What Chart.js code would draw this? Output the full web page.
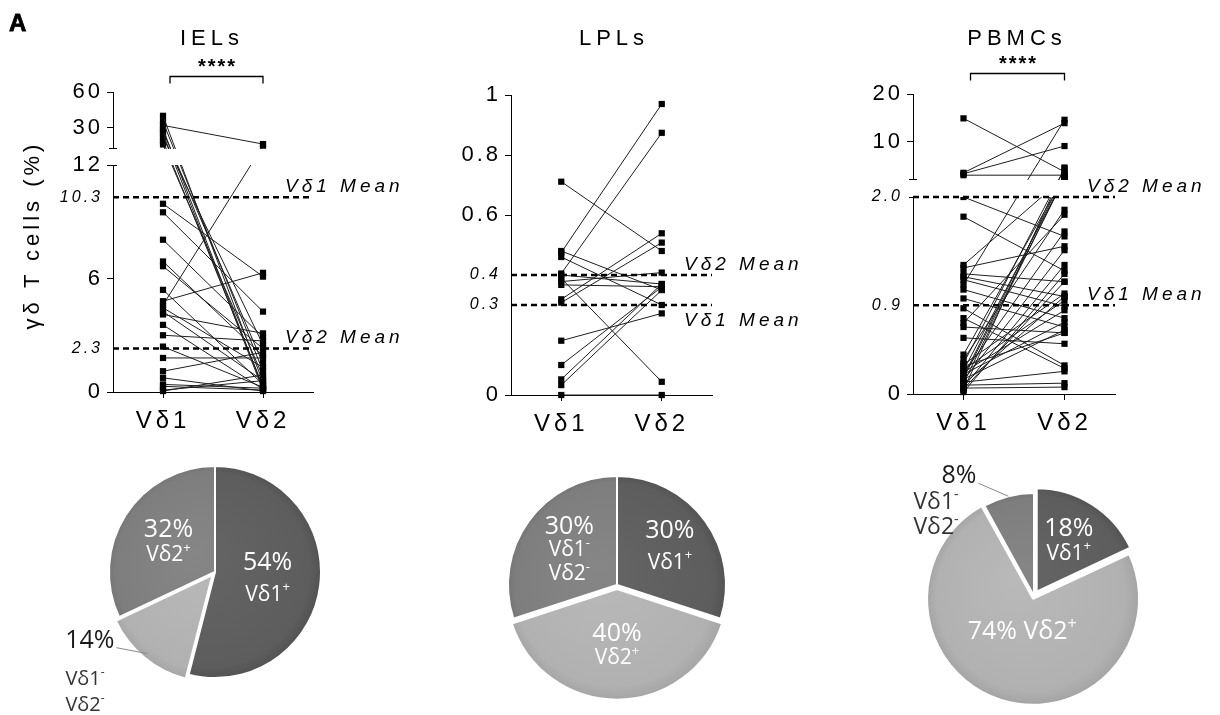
<!DOCTYPE html>
<html>
<head>
<meta charset="utf-8">
<script src="https://cdn.jsdelivr.net/npm/chart.js@4.4.1/dist/chart.umd.min.js"></script>
<style>
  body { margin: 0; background: #fff; width: 1220px; height: 715px; position: relative; overflow: hidden;
         font-family: "Liberation Sans", Arial, sans-serif; color: #000; }
  canvas, .txt { position: absolute; }
  .txt { z-index: 2; }
  .title { font-size: 22px; letter-spacing: 5px; line-height: 22px; width: 200px; text-align: center; top: 27px; }
</style>
</head>
<body>
<canvas id="ielPairs" width="420" height="450" style="left:0; top:0;"></canvas>
<canvas id="lplPairs" width="400" height="450" style="left:420px; top:0;"></canvas>
<canvas id="pbmcPairs" width="390" height="450" style="left:830px; top:0;"></canvas>
<canvas id="ielPie" width="430" height="265" style="left:0; top:450px;"></canvas>
<canvas id="lplPie" width="400" height="265" style="left:420px; top:450px;"></canvas>
<canvas id="pbmcPie" width="390" height="265" style="left:830px; top:450px;"></canvas>

<div class="txt" style="left:9px; top:9px; font-size:24px; font-weight:bold; line-height:28px; -webkit-text-stroke:0.8px #000;">A</div>
<div class="txt title" style="left:112px;">IELs</div>
<div class="txt title" style="left:514px;">LPLs</div>
<div class="txt title" style="left:917px;">PBMCs</div>
<div class="txt" style="left:-118px; top:222px; width:300px; text-align:center; font-size:22px; letter-spacing:4px; line-height:26px; transform:rotate(-90deg);">γδ T cells (%)</div>

<script>
const categories = ['Vδ1', 'Vδ2'];

// IELs, % of gamma-delta T cells, one entry per donor (Vδ1 and Vδ2 paired)
const ielVd1 = [40, 35, 32, 29, 27, 25, 22, 19, 16, 9.95, 9.5, 8.05, 6.9, 6.65, 5.4, 4.8, 4.6, 4.45, 4.25, 4.1,
                3.55, 3.0, 2.4, 1.8, 1.1, 0.75, 0.4, 0.3, 0.1, 0.05];
const ielVd2 = [0.5, 1.1, 16.3, 0.2, 1.5, 0.1, 2.5, 0.3, 0.8, 6.1, 4.25, 2.9, 1.9, 2.3, 0.4, 6.3, 15, 1.3, 0.6, 3.1,
                0.15, 2.7, 0.25, 1.8, 2.1, 0.05, 0.2, 0.1, 0.6, 0.9];
const ielMeans = [10.3, 2.3];
const ielTicks = [0, 2.3, 6, 10.3, 12, 30, 60];
const ielTickLabels = ['0', '2.3', '6', '10.3', '12', '30', '60'];

// LPLs
const lplVd1 = [0.711, 0.475, 0.48, 0.46, 0.405, 0.40, 0.389, 0.378, 0.367, 0.319, 0.308, 0.181, 0.1, 0.052, 0.033, 0];
const lplVd2 = [0.48, 0.97, 0.35, 0.30, 0.874, 0.37, 0.044, 0.408, 0.361, 0.539, 0.508, 0.272, 0.36, 0.37, 0.35, 0];
const lplMeans = [0.3, 0.4];
const lplTicks = [0, 0.3, 0.4, 0.6, 0.8, 1];
const lplTickLabels = ['0', '0.3', '0.4', '0.6', '0.8', '1'];

// PBMCs
const pbmcVd1 = [14.9, 3.5, 3.3, 3.0, 2.0, 1.8, 1.31, 1.28, 1.22, 1.19, 1.16, 1.11, 1.06, 0.97, 0.87, 0.77, 0.72, 0.68,
                 0.57, 0.40, 0.35, 0.31, 0.24, 0.21, 0.18, 0.14, 0.11, 0.07, 0.04, 0.02, 0.30, 0.25, 0.20, 0.15, 0.12,
                 0.09, 0.06, 0.16, 0.28, 0.10, 0.05, 0.22];
const pbmcVd2 = [3.7, 13.9, 9.1, 3.0, 1.6, 1.25, 2.6, 1.5, 1.14, 0.99, 0.89, 14.6, 0.77, 0.68, 0.29, 0.26, 1.82, 0.62,
                 0.51, 2.8, 1.87, 4.4, 2.4, 1.65, 3.2, 1.46, 2.6, 1.31, 4.6, 1.22, 1.02, 0.95, 0.73, 0.65, 0.23,
                 0.11, 0.07, 2.3, 0.62, 0.99, 1.14, 0.85];
const pbmcMeans = [0.9, 2.0];
const pbmcTicks = [0, 0.9, 2.0, 10, 20];
const pbmcTickLabels = ['0', '0.9', '2.0', '10', '20'];

const significance = '****';

// pie charts: subset shares in %
const ielPieLabels = ['Vδ1⁺', 'Vδ1⁻ Vδ2⁻', 'Vδ2⁺'];
const ielPieValues = [54, 14, 32];
const lplPieLabels = ['Vδ1⁺', 'Vδ2⁺', 'Vδ1⁻ Vδ2⁻'];
const lplPieValues = [30, 40, 30];
const pbmcPieLabels = ['Vδ1⁺', 'Vδ2⁺', 'Vδ1⁻ Vδ2⁻'];
const pbmcPieValues = [18, 74, 8];

const AXIS_FONT = '"Liberation Sans", Arial, sans-serif';
const PIE_FONT = '"Open Sans", "Noto Sans", sans-serif';
const DARK = '#5d5d5d', MID = '#7e7e7e', LIGHT = '#b1b1b1';

// segmented (broken) y axes: value ranges and the share of the axis height they get
const axisBreaks = {
  iel:  [{ from: 0, to: 12, start: 0, end: 227 / 300 }, { from: 13, to: 60, start: 244 / 300, end: 1 }],
  pbmc: [{ from: 0, to: 2, start: 0, end: 197 / 300 }, { from: 2.2, to: 20, start: 215 / 300, end: 1 }]
};

class BrokenScale extends Chart.LinearScale {
  static id = 'broken';
  getPixelForValue(value) {
    const segs = axisBreaks[this.options.breaks];
    if (!segs || value === null || value === undefined) return super.getPixelForValue(value);
    let dec = 0;
    for (let i = 0; i < segs.length; i++) {
      const s = segs[i];
      if (value <= s.to || i === segs.length - 1) {
        if (value >= s.from || i === 0) {
          dec = s.start + (value - s.from) / (s.to - s.from) * (s.end - s.start);
        } else {
          const p = segs[i - 1];
          dec = p.end + (value - p.to) / (s.from - p.to) * (s.start - p.end);
        }
        break;
      }
    }
    return this.getPixelForDecimal(dec);
  }
  drawLabels(area) {
    this.ctx.save();
    this.ctx.letterSpacing = '3px';
    super.drawLabels(area);
    this.ctx.restore();
  }
}

class SpacedCategory extends Chart.CategoryScale {
  static id = 'spacedCategory';
  drawLabels(area) {
    this.ctx.save();
    this.ctx.letterSpacing = '4px';
    super.drawLabels(area);
    this.ctx.restore();
  }
}
Chart.register(BrokenScale, SpacedCategory);

function decor(cfg) {
  return {
    id: 'decor',
    afterDatasetsDraw(chart) {
      const { ctx, chartArea: a, scales: { x, y } } = chart;
      ctx.save();
      const segs = axisBreaks[cfg.breaks];
      if (segs) {
        for (let i = 1; i < segs.length; i++) {
          const yLow = Math.round(y.getPixelForValue(segs[i - 1].to));
          const yHigh = Math.round(y.getPixelForValue(segs[i].from));
          ctx.fillStyle = '#fff';
          ctx.fillRect(a.left - 3, yHigh + 1, a.right - a.left + 12, yLow - yHigh - 1);
          ctx.strokeStyle = '#000';
          ctx.lineWidth = 1;
          ctx.beginPath();
          ctx.moveTo(a.left - 4, yHigh + 0.5); ctx.lineTo(a.left + 4, yHigh + 0.5);
          ctx.moveTo(a.left - 4, yLow + 0.5); ctx.lineTo(a.left + 4, yLow + 0.5);
          ctx.stroke();
        }
      }
      // mean lines
      ctx.strokeStyle = '#000';
      ctx.lineWidth = 2.5;
      ctx.setLineDash([6, 4]);
      cfg.means.forEach(m => {
        const py = y.getPixelForValue(m);
        ctx.beginPath(); ctx.moveTo(a.left, py); ctx.lineTo(a.right, py); ctx.stroke();
      });
      ctx.setLineDash([]);
      ctx.fillStyle = '#000';
      ctx.font = 'italic 19px ' + AXIS_FONT;
      ctx.letterSpacing = '4px';
      ctx.textAlign = 'left';
      ctx.textBaseline = 'alphabetic';
      cfg.means.forEach((m, i) => {
        const py = y.getPixelForValue(m);
        ctx.fillText(categories[i] + ' Mean', a.right - 28, cfg.meanBelow[i] ? py + 21 : py - 5);
      });
      // significance bracket
      if (cfg.bracketY) {
        const x1 = x.getPixelForValue(0) + 7, x2 = x.getPixelForValue(1), by = cfg.bracketY + 0.5;
        ctx.lineWidth = 1.3;
        ctx.beginPath();
        ctx.moveTo(x1, by + 7); ctx.lineTo(x1, by); ctx.lineTo(x2, by); ctx.lineTo(x2, by + 7);
        ctx.stroke();
        ctx.font = 'bold 20px ' + AXIS_FONT;
        ctx.letterSpacing = '2px';
        ctx.textAlign = 'center';
        ctx.fillText(significance, (x1 + x2) / 2 + 1, by - 4);
      }
      ctx.restore();
    }
  };
}

function pairedChart(id, vd1, vd2, cfg) {
  const isMean = v => cfg.means.includes(v);
  const datasets = vd1.map((v, i) => ({
    data: [v, vd2[i]],
    borderColor: '#1e1e1e',
    borderWidth: 1,
    pointStyle: 'rect',
    pointRadius: 4.4,
    pointBorderWidth: 0,
    pointBackgroundColor: '#000',
    clip: false
  }));
  return new Chart(document.getElementById(id), {
    type: 'line',
    data: { labels: categories, datasets },
    options: {
      responsive: false,
      animation: false,
      events: [],
      layout: { padding: cfg.padding },
      plugins: { legend: { display: false }, tooltip: { enabled: false } },
      scales: {
        x: {
          type: 'spacedCategory',
          offset: true,
          afterFit: s => { s.height = cfg.xHeight; },
          grid: { display: true, drawOnChartArea: false, tickLength: 6, color: '#000', tickColor: '#000' },
          border: { color: '#000', width: 1 },
          ticks: { color: '#000', padding: 9, font: { family: AXIS_FONT, size: 24 } }
        },
        y: {
          type: 'broken',
          breaks: cfg.breaks,
          min: cfg.ticks[0],
          max: cfg.ticks[cfg.ticks.length - 1],
          afterFit: s => { s.width = 60; },
          afterBuildTicks: s => { s.ticks = cfg.ticks.map(v => ({ value: v })); },
          grid: {
            display: true, drawOnChartArea: false, tickLength: 6,
            tickColor: c => (c.tick && isMean(c.tick.value) ? 'rgba(0,0,0,0)' : '#000')
          },
          border: { color: '#000', width: 1 },
          ticks: {
            autoSkip: false,
            padding: 4,
            color: '#000',
            callback: (v, i) => cfg.tickLabels[i],
            font: c => (c.tick && isMean(c.tick.value)
              ? { family: AXIS_FONT, size: 16, style: 'italic' }
              : { family: AXIS_FONT, size: 22 })
          }
        }
      }
    },
    plugins: [decor(cfg)]
  });
}

function drawSupLine(ctx, text, x, yMid, size, align, color) {
  let base = text, sup = '';
  const last = text.slice(-1);
  if (last === '⁺' || last === '⁻') { base = text.slice(0, -1); sup = last === '⁺' ? '+' : '-'; }
  const big = size + 'px ' + PIE_FONT, small = Math.round(size * 0.62) + 'px ' + PIE_FONT;
  ctx.font = big;
  const wb = ctx.measureText(base).width;
  ctx.font = small;
  const ws = sup ? ctx.measureText(sup).width : 0;
  const w = wb + ws;
  const x0 = align === 'center' ? x - w / 2 : (align === 'right' ? x - w : x);
  ctx.textAlign = 'left';
  ctx.textBaseline = 'middle';
  ctx.fillStyle = color;
  ctx.font = big;
  ctx.fillText(base, x0, yMid);
  if (sup) { ctx.font = small; ctx.fillText(sup, x0 + wb, yMid - size * 0.33); }
}

function pieText(values, subsets, cfg) {
  return {
    id: 'pieText',
    afterDatasetsDraw(chart) {
      const ctx = chart.ctx;
      ctx.save();
      chart.getDatasetMeta(0).data.forEach((arc, i) => {
        const { x, y, startAngle, endAngle, outerRadius } =
          arc.getProps(['x', 'y', 'startAngle', 'endAngle', 'outerRadius'], true);
        const mid = (startAngle + endAngle) / 2, dx = Math.cos(mid), dy = Math.sin(mid);
        const L = cfg.labels[i];
        const pct = values[i] + '%';
        const lines = subsets[i].split(' ');
        if (L.outside) {
          const ex = x + dx * outerRadius, ey = y + dy * outerRadius;
          const lx = ex + L.leader[0], ly = ey + L.leader[1];
          ctx.strokeStyle = '#8a8a8a';
          ctx.lineWidth = 1;
          ctx.beginPath(); ctx.moveTo(ex, ey); ctx.lineTo(lx, ly); ctx.stroke();
          drawSupLine(ctx, pct, lx + L.pct[0], ly + L.pct[1], 25, 'right', '#1a1a1a');
          lines.forEach((t, k) => drawSupLine(ctx, t, lx + L.sub[0], ly + L.sub[1] + k * L.sub[2], L.subSize, 'left', '#333'));
        } else {
          const cx = x + dx * outerRadius * L.r, cy = y + dy * outerRadius * L.r;
          if (L.inline) {
            drawSupLine(ctx, pct + ' ' + subsets[i], cx, cy, 25, 'center', '#fff');
          } else {
            const top = cy - lines.length * L.gap / 2;
            drawSupLine(ctx, pct, cx, top, 25, 'center', '#fff');
            lines.forEach((t, k) => drawSupLine(ctx, t, cx, top + (k + 1) * L.gap, 21, 'center', '#fff'));
          }
        }
      });
      ctx.restore();
    }
  };
}

function shade(hex, amt) {
  const n = parseInt(hex.slice(1), 16);
  const c = [n >> 16, (n >> 8) & 255, n & 255].map(v => Math.max(0, Math.min(255, v + amt)));
  return 'rgb(' + c.join(',') + ')';
}

function pieChart(id, values, subsets, cfg) {
  return new Chart(document.getElementById(id), {
    type: 'pie',
    data: {
      labels: subsets,
      datasets: [{
        data: values,
        radius: cfg.radius,
        offset: cfg.offsets,
        borderColor: '#fff',
        borderWidth: 2,
        backgroundColor: c => {
          const base = cfg.colors[c.dataIndex];
          const a = c.chart.chartArea;
          if (!a) return base;
          const cx = (a.left + a.right) / 2, cy = (a.top + a.bottom) / 2;
          const g = c.chart.ctx.createRadialGradient(cx - 20, cy - 20, 0, cx, cy, cfg.radius + 4);
          g.addColorStop(0, shade(base, 8));
          g.addColorStop(0.88, base);
          g.addColorStop(1, shade(base, -14));
          return g;
        }
      }]
    },
    options: {
      responsive: false,
      animation: false,
      events: [],
      layout: { padding: cfg.padding },
      plugins: { legend: { display: false }, tooltip: { enabled: false } }
    },
    plugins: [pieText(values, subsets, cfg)]
  });
}

pairedChart('ielPairs', ielVd1, ielVd2, {
  breaks: 'iel', ticks: ielTicks, tickLabels: ielTickLabels, means: ielMeans, meanBelow: [false, false],
  bracketY: 76, padding: { left: 53, right: 107, top: 92, bottom: 0 }, xHeight: 58
});
pairedChart('lplPairs', lplVd1, lplVd2, {
  breaks: null, ticks: lplTicks, tickLabels: lplTickLabels, means: lplMeans, meanBelow: [true, false],
  bracketY: null, padding: { left: 31, right: 108, top: 95, bottom: 0 }, xHeight: 55
});
pairedChart('pbmcPairs', pbmcVd1, pbmcVd2, {
  breaks: 'pbmc', ticks: pbmcTicks, tickLabels: pbmcTickLabels, means: pbmcMeans, meanBelow: [false, false],
  bracketY: 73, padding: { left: 23, right: 105, top: 94, bottom: 0 }, xHeight: 56
});

pieChart('ielPie', ielPieValues, ielPieLabels, {
  radius: 106, offsets: [0, 16, 0], colors: [DARK, LIGHT, MID],
  padding: { left: 0, right: 0, top: 0, bottom: 21 },
  labels: [
    { r: 0.5, gap: 32 },
    { outside: true, leader: [-31, -6], pct: [-2, -7], sub: [-51, 32, 26], subSize: 20 },
    { r: 0.52, gap: 26 }
  ]
});
pieChart('lplPie', lplPieValues, lplPieLabels, {
  radius: 109, offsets: [0, 16, 0], colors: [DARK, LIGHT, MID],
  padding: { left: 0, right: 6, top: 5, bottom: 0 },
  labels: [{ r: 0.6, gap: 32 }, { r: 0.56, gap: 24 }, { r: 0.54, gap: 24 }]
});
pieChart('pbmcPie', pbmcPieValues, pbmcPieLabels, {
  radius: 103, offsets: [20, 12, 0], colors: [DARK, LIGHT, MID],
  padding: { left: 18, right: 0, top: 27, bottom: 0 },
  labels: [
    { r: 0.63, gap: 25 },
    { r: 0.37, inline: true },
    { outside: true, leader: [-30, -13], pct: [-2, -7], sub: [-65, 19, 25], subSize: 23 }
  ]
});
</script>
</body>
</html>
